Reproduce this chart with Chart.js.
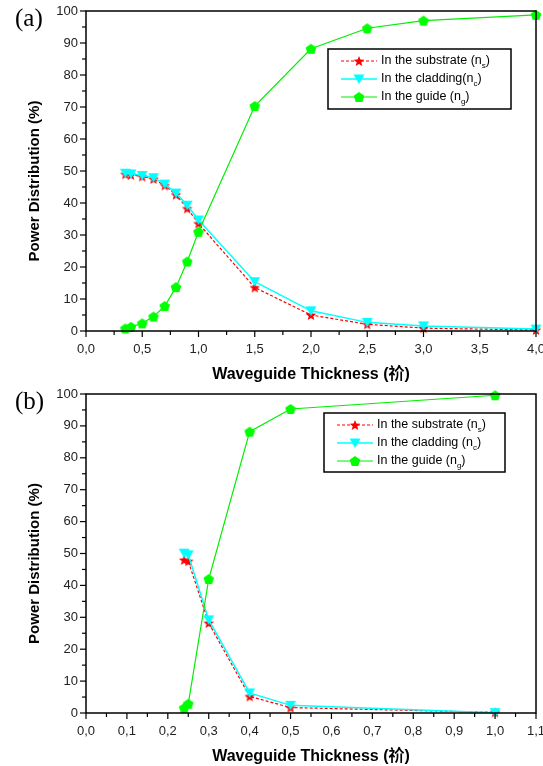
<!DOCTYPE html>
<html>
<head>
<meta charset="utf-8">
<script src="https://cdn.jsdelivr.net/npm/chart.js@4.4.1/dist/chart.umd.min.js"></script>
<style>
html, body { margin: 0; padding: 0; background: #fff; }
canvas { display: block; }
</style>
</head>
<body>
<canvas id="chartA" width="543" height="383"></canvas>
<canvas id="chartB" width="543" height="383"></canvas>
<script>
// ---- panel (a) ----
var thickA     = [0.35, 0.4, 0.5, 0.6, 0.7, 0.8, 0.9, 1.0, 1.5, 2.0, 2.5, 3.0, 4.0];
var substrateA = [49.0, 48.8, 48.3, 47.5, 45.5, 42.6, 38.3, 33.6, 13.6, 5.0, 2.1, 0.9, 0.3];
var claddingA  = [49.3, 49.1, 48.6, 47.9, 45.9, 43.1, 39.3, 34.7, 15.4, 6.3, 2.7, 1.6, 0.6];
var guideA     = [0.8, 1.3, 2.4, 4.5, 7.8, 13.7, 21.7, 31.0, 70.3, 88.2, 94.6, 97.0, 98.8];

// ---- panel (b) ----
var thickB     = [0.24, 0.25, 0.3, 0.4, 0.5, 1.0];
var substrateB = [48.0, 47.6, 28.2, 5.2, 1.7, 0.2];
var claddingB  = [50.1, 49.6, 29.2, 6.3, 2.4, 0.1];
var guideB     = [1.6, 2.9, 42.0, 88.2, 95.3, 99.6];

var legendA = ['In the substrate (n', 'In the cladding(n', 'In the guide (n'];
var legendB = ['In the substrate (n', 'In the cladding (n', 'In the guide (n'];
var legendSubs = ['s', 'c', 'g'];
var xTitle = 'Waveguide Thickness (\u7944)';
var yTitle = 'Power Distribution (%)';

var FONT = '"Liberation Sans", Arial, "Noto Sans CJK SC", sans-serif';

// marker images
function makeStar() {
    var c = document.createElement('canvas');
    c.width = 12; c.height = 12;
    var g = c.getContext('2d');
    g.fillStyle = '#ff0000';
    g.beginPath();
    for (var i = 0; i < 10; i++) {
        var r = i % 2 ? 2.4 : 5.6;
        var a = -Math.PI / 2 + i * Math.PI / 5;
        g.lineTo(6 + r * Math.cos(a), 6.5 + r * Math.sin(a));
    }
    g.closePath();
    g.fill();
    return c;
}
function makeTriangle() {
    var c = document.createElement('canvas');
    c.width = 12; c.height = 11;
    var g = c.getContext('2d');
    g.fillStyle = '#00ffff';
    g.beginPath();
    g.moveTo(0.5, 1); g.lineTo(11.5, 1); g.lineTo(6, 10.5);
    g.closePath();
    g.fill();
    return c;
}
function makePentagon() {
    var c = document.createElement('canvas');
    c.width = 12; c.height = 12;
    var g = c.getContext('2d');
    g.fillStyle = '#00ff00';
    g.beginPath();
    for (var i = 0; i < 5; i++) {
        var a = -Math.PI / 2 + i * 2 * Math.PI / 5;
        g.lineTo(6 + 5.6 * Math.cos(a), 6.5 + 5.6 * Math.sin(a));
    }
    g.closePath();
    g.fill();
    return c;
}
var starImg = makeStar(), triImg = makeTriangle(), pentImg = makePentagon();

function pts(xs, ys) {
    return xs.map(function (x, i) { return {x: x, y: ys[i]}; });
}

var deco = {
    id: 'deco',
    afterDraw: function (chart) {
        var o = chart.options.plugins.deco;
        var ctx = chart.ctx, ca = chart.chartArea;
        var xs = chart.scales.x, ys = chart.scales.y;
        ctx.save();
        ctx.strokeStyle = '#000';
        ctx.lineWidth = 1.5;
        ctx.strokeRect(ca.left, ca.top, ca.right - ca.left, ca.bottom - ca.top);

        function seg(x1, y1, x2, y2) {
            ctx.beginPath(); ctx.moveTo(x1, y1); ctx.lineTo(x2, y2); ctx.stroke();
        }
        ctx.lineWidth = 1.2;
        xs.ticks.forEach(function (t, i) {
            var p = xs.getPixelForValue(t.value);
            seg(p, ca.bottom, p, ca.bottom + 6);
            if (i < xs.ticks.length - 1) {
                var m = xs.getPixelForValue((t.value + xs.ticks[i + 1].value) / 2);
                seg(m, ca.bottom, m, ca.bottom + 4);
            }
        });
        ys.ticks.forEach(function (t, i) {
            var p = ys.getPixelForValue(t.value);
            seg(ca.left, p, ca.left - 6, p);
            if (i < ys.ticks.length - 1) {
                var m = ys.getPixelForValue((t.value + ys.ticks[i + 1].value) / 2);
                seg(ca.left, m, ca.left - 4, m);
            }
        });

        // axis titles
        ctx.fillStyle = '#000';
        ctx.font = 'bold 16px ' + FONT;
        ctx.textAlign = 'center';
        ctx.textBaseline = 'middle';
        ctx.fillText(xTitle, (ca.left + ca.right) / 2, ca.bottom + 44);
        ctx.font = 'bold 15px ' + FONT;
        ctx.save();
        ctx.translate(35, (ca.top + ca.bottom) / 2 + 10);
        ctx.rotate(-Math.PI / 2);
        ctx.fillText(yTitle, 0, 0);
        ctx.restore();

        // panel label
        ctx.font = '25px "Liberation Serif", "DejaVu Serif", serif';
        ctx.textAlign = 'left';
        ctx.fillText(o.label, 15, ca.top + 8);

        // legend
        var b = o.box;
        ctx.lineWidth = 1.5;
        ctx.strokeStyle = '#000';
        ctx.strokeRect(b[0], b[1], b[2], b[3]);
        chart.data.datasets.forEach(function (ds, i) {
            var y = b[1] + 12 + i * 18;
            var x0 = b[0] + 13;
            ctx.save();
            ctx.strokeStyle = ds.borderColor;
            ctx.lineWidth = ds.borderWidth;
            ctx.setLineDash(ds.borderDash || []);
            seg(x0, y, x0 + 36, y);
            ctx.restore();
            var img = ds.pointStyle;
            ctx.drawImage(img, x0 + 18 - img.width / 2, y - img.height / 2);
            ctx.font = '12.5px ' + FONT;
            ctx.fillStyle = '#000';
            ctx.textBaseline = 'middle';
            var tx = x0 + 40;
            ctx.fillText(o.legend[i], tx, y);
            tx += ctx.measureText(o.legend[i]).width;
            ctx.font = '8px ' + FONT;
            ctx.fillText(legendSubs[i], tx, y + 5);
            tx += ctx.measureText(legendSubs[i]).width;
            ctx.font = '12.5px ' + FONT;
            ctx.fillText(')', tx, y);
        });
        ctx.restore();
    }
};

function buildChart(id, xv, sub, clad, guide, cfg) {
    return new Chart(document.getElementById(id), {
        type: 'line',
        data: {
            datasets: [
                {
                    label: 'In the substrate (ns)', data: pts(xv, sub),
                    borderColor: '#ff0000', borderWidth: 1.2, borderDash: [3, 2],
                    pointStyle: starImg, order: 3
                },
                {
                    label: 'In the cladding (nc)', data: pts(xv, clad),
                    borderColor: '#00ffff', borderWidth: 1.5,
                    pointStyle: triImg, order: 2
                },
                {
                    label: 'In the guide (ng)', data: pts(xv, guide),
                    borderColor: '#00ee00', borderWidth: 1.2,
                    pointStyle: pentImg, order: 1
                }
            ]
        },
        options: {
            responsive: false,
            animation: false,
            clip: false,
            layout: {padding: {top: cfg.top, right: 7, left: 0, bottom: 0}},
            elements: {line: {tension: 0, fill: false}, point: {radius: 5}},
            scales: {
                x: {
                    type: 'linear', min: 0, max: cfg.xMax,
                    grid: {display: false, drawTicks: false}, border: {display: false},
                    ticks: {
                        stepSize: cfg.xStep, autoSkip: false, maxRotation: 0, padding: 11,
                        color: '#222', font: {family: FONT, size: 13},
                        callback: function (v) { return v.toFixed(1).replace('.', ','); }
                    },
                    afterFit: function (s) { s.height = cfg.bottomH; s.paddingLeft = 0; s.paddingRight = 0; }
                },
                y: {
                    min: 0, max: 100,
                    grid: {display: false, drawTicks: false}, border: {display: false},
                    ticks: {
                        stepSize: 10, padding: 8,
                        color: '#222', font: {family: FONT, size: 13}
                    },
                    afterFit: function (s) { s.width = 86; s.paddingTop = 0; s.paddingBottom = 0; }
                }
            },
            plugins: {
                legend: {display: false},
                tooltip: {enabled: false},
                deco: {label: cfg.label, box: cfg.box, legend: cfg.legend}
            }
        },
        plugins: [deco]
    });
}

buildChart('chartA', thickA, substrateA, claddingA, guideA,
    {top: 11, bottomH: 52, xMax: 4, xStep: 0.5, label: '(a)', box: [328, 49, 183, 60], legend: legendA});
buildChart('chartB', thickB, substrateB, claddingB, guideB,
    {top: 11, bottomH: 53, xMax: 1.1, xStep: 0.1, label: '(b)', box: [324, 30, 181, 59], legend: legendB});
</script>
</body>
</html>
